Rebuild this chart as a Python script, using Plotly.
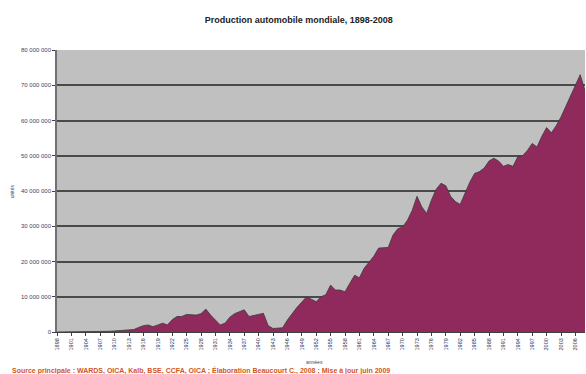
import plotly.graph_objects as go

# World automobile production, units per year
years = list(range(1898, 2009))
production = [
    0.002e6, 0.004e6, 0.01e6, 0.015e6, 0.02e6, 0.03e6, 0.04e6, 0.05e6, 0.06e6, 0.08e6,  # 1898-1907
    0.1e6, 0.2e6, 0.3e6, 0.4e6, 0.5e6, 0.6e6, 0.7e6, 1.3e6, 1.8e6, 2.0e6,              # 1908-1917
    1.5e6, 2.0e6, 2.5e6, 2.0e6, 3.5e6, 4.4e6, 4.4e6, 5.0e6, 4.8e6, 4.8e6,              # 1918-1927
    5.2e6, 6.5e6, 4.8e6, 3.5e6, 2.0e6, 2.5e6, 4.2e6, 5.2e6, 5.8e6, 6.3e6,              # 1928-1937
    4.4e6, 4.6e6, 5.0e6, 5.3e6, 1.8e6, 1.0e6, 1.0e6, 1.2e6, 3.4e6, 5.3e6,              # 1938-1947
    7.0e6, 8.5e6, 10.0e6, 9.3e6, 8.6e6, 10.0e6, 10.6e6, 13.3e6, 11.9e6, 11.9e6,        # 1948-1957
    11.4e6, 13.8e6, 16.1e6, 15.4e6, 18.1e6, 19.8e6, 21.5e6, 23.8e6, 24.0e6, 24.0e6,    # 1958-1967
    27.5e6, 29.3e6, 29.8e6, 31.7e6, 34.5e6, 38.5e6, 35.5e6, 33.6e6, 37.4e6, 40.5e6,    # 1968-1977
    42.2e6, 41.5e6, 38.5e6, 37.0e6, 36.2e6, 39.5e6, 42.5e6, 45.0e6, 45.5e6, 46.5e6,    # 1978-1987
    48.5e6, 49.3e6, 48.5e6, 47.0e6, 47.5e6, 47.0e6, 49.7e6, 50.0e6, 51.5e6, 53.5e6,    # 1988-1997
    52.5e6, 55.5e6, 58.0e6, 56.5e6, 58.5e6, 61.0e6, 64.0e6, 66.5e6, 69.5e6, 73.0e6,    # 1998-2007
    68.5e6,                                                                            # 2008
]

x_ticks = list(range(1898, 2009, 3))
y_ticks = [i * 10_000_000 for i in range(9)]
y_tick_text = ["0"] + [f"{v:,}".replace(",", " ") for v in y_ticks[1:]]

title = "Production automobile mondiale, 1898-2008"
source = ("Source principale : WARDS, OICA, Kalb, BSE, CCFA, OICA ; "
          "Élaboration Beaucourt C., 2008 ; Mise à jour juin 2009")

fig = go.Figure()
fig.add_trace(go.Scatter(
    x=years, y=production,
    mode="lines",
    line=dict(color="#3a3a3a", width=0.8),
    fill="tozeroy",
    fillcolor="#902a5c",
    showlegend=False,
    hoverinfo="x+y",
))

fig.update_layout(
    width=586, height=374,
    margin=dict(l=57, r=1, t=50, b=42),
    paper_bgcolor="white",
    plot_bgcolor="#c0c0c0",
    title=dict(text=f"<b>{title}</b>", x=0.51, xanchor="center", y=0.948, yanchor="middle",
               font=dict(family="Liberation Sans, Arial", size=9, color="#222222")),
    xaxis=dict(
        range=[1898, 2008], tickmode="array", tickvals=x_ticks,
        ticktext=[str(y) for y in x_ticks], tickangle=-90,
        tickfont=dict(family="Liberation Sans, Arial", size=5.5, color="#333355"),
        showgrid=False, zeroline=False,
        showline=True, linecolor="#404040", linewidth=1,
        ticks="outside", ticklen=3, tickcolor="#404040",
    ),
    yaxis=dict(
        range=[0, 80_000_000], tickmode="array", tickvals=y_ticks, ticktext=y_tick_text,
        tickfont=dict(family="Liberation Sans, Arial", size=6, color="#4a3a6a"),
        showgrid=True, gridcolor="#4a4a4a", gridwidth=1.5,
        zeroline=False,
        showline=True, linecolor="#707070", linewidth=1.5,
        ticks="outside", ticklen=3, tickcolor="#404040",
    ),
    annotations=[
        dict(text="unités", x=-0.094, y=0.50, xref="paper", yref="paper", textangle=-90,
             showarrow=False, font=dict(family="Liberation Sans, Arial", size=5, color="#444466")),
        dict(text="années", x=0.488, y=-0.106, xref="paper", yref="paper",
             yanchor="middle", showarrow=False,
             font=dict(family="Liberation Sans, Arial", size=5, color="#444466")),
        dict(text=f"<b>{source}</b>", x=-0.089, y=-0.135, xref="paper", yref="paper",
             xanchor="left", yanchor="middle", showarrow=False,
             font=dict(family="Liberation Sans, Arial", size=7, color="#d2551e")),
    ],
)

fig.write_html("out.html")
